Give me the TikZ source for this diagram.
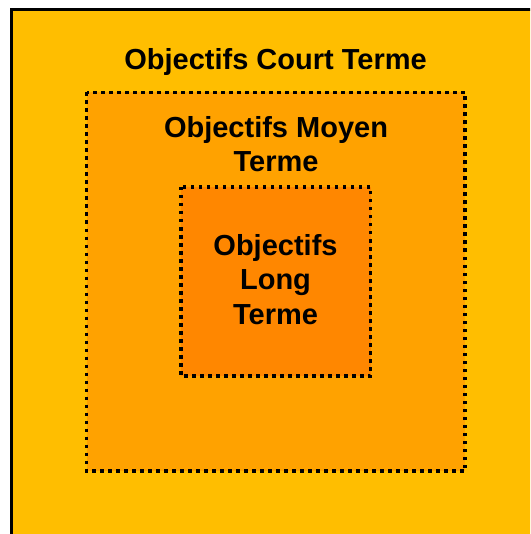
\documentclass[tikz,border=0pt]{standalone}
\usepackage{fontspec}
\setmainfont{Liberation Sans}
\definecolor{shortfill}{RGB}{255,190,0}
\definecolor{midfill}{RGB}{255,162,0}
\definecolor{longfill}{RGB}{255,135,0}
\tikzset{
  frameline/.style={draw=black, line width=3.5pt},
  dotline/.style={draw=black, line width=3.5pt, dash pattern=on 3.5pt off 4.5pt},
  label/.style={font=\fontsize{29}{34.5}\selectfont\bfseries, align=center, inner sep=0pt, text=black}
}
\begin{document}
\begin{tikzpicture}[x=1pt,y=-1pt]
  \useasboundingbox (0,0) rectangle (530,534);
  \clip (0,0) rectangle (530,534);
  \fill[white] (0,0) rectangle (530,534);
  % short-term frame, running off the right and bottom edges
  \path[frameline, fill=shortfill] (11.5,9.5) rectangle (560,560);
  % medium-term and long-term zones
  \path[dotline, fill=midfill] (86.5,92.5) rectangle (465,471);
  \path[dotline, fill=longfill] (181,187) rectangle (370.5,376);
  % labels (base anchor sits on the last line's baseline)
  \node[label, anchor=base] (court) at (275.5,70) {Objectifs Court Terme};
  \node[label, anchor=base] (moyen) at (276,172) {Objectifs Moyen\\Terme};
  \node[label, anchor=base] (long) at (275.5,324) {Objectifs\\Long\\Terme};
\end{tikzpicture}
\end{document}
